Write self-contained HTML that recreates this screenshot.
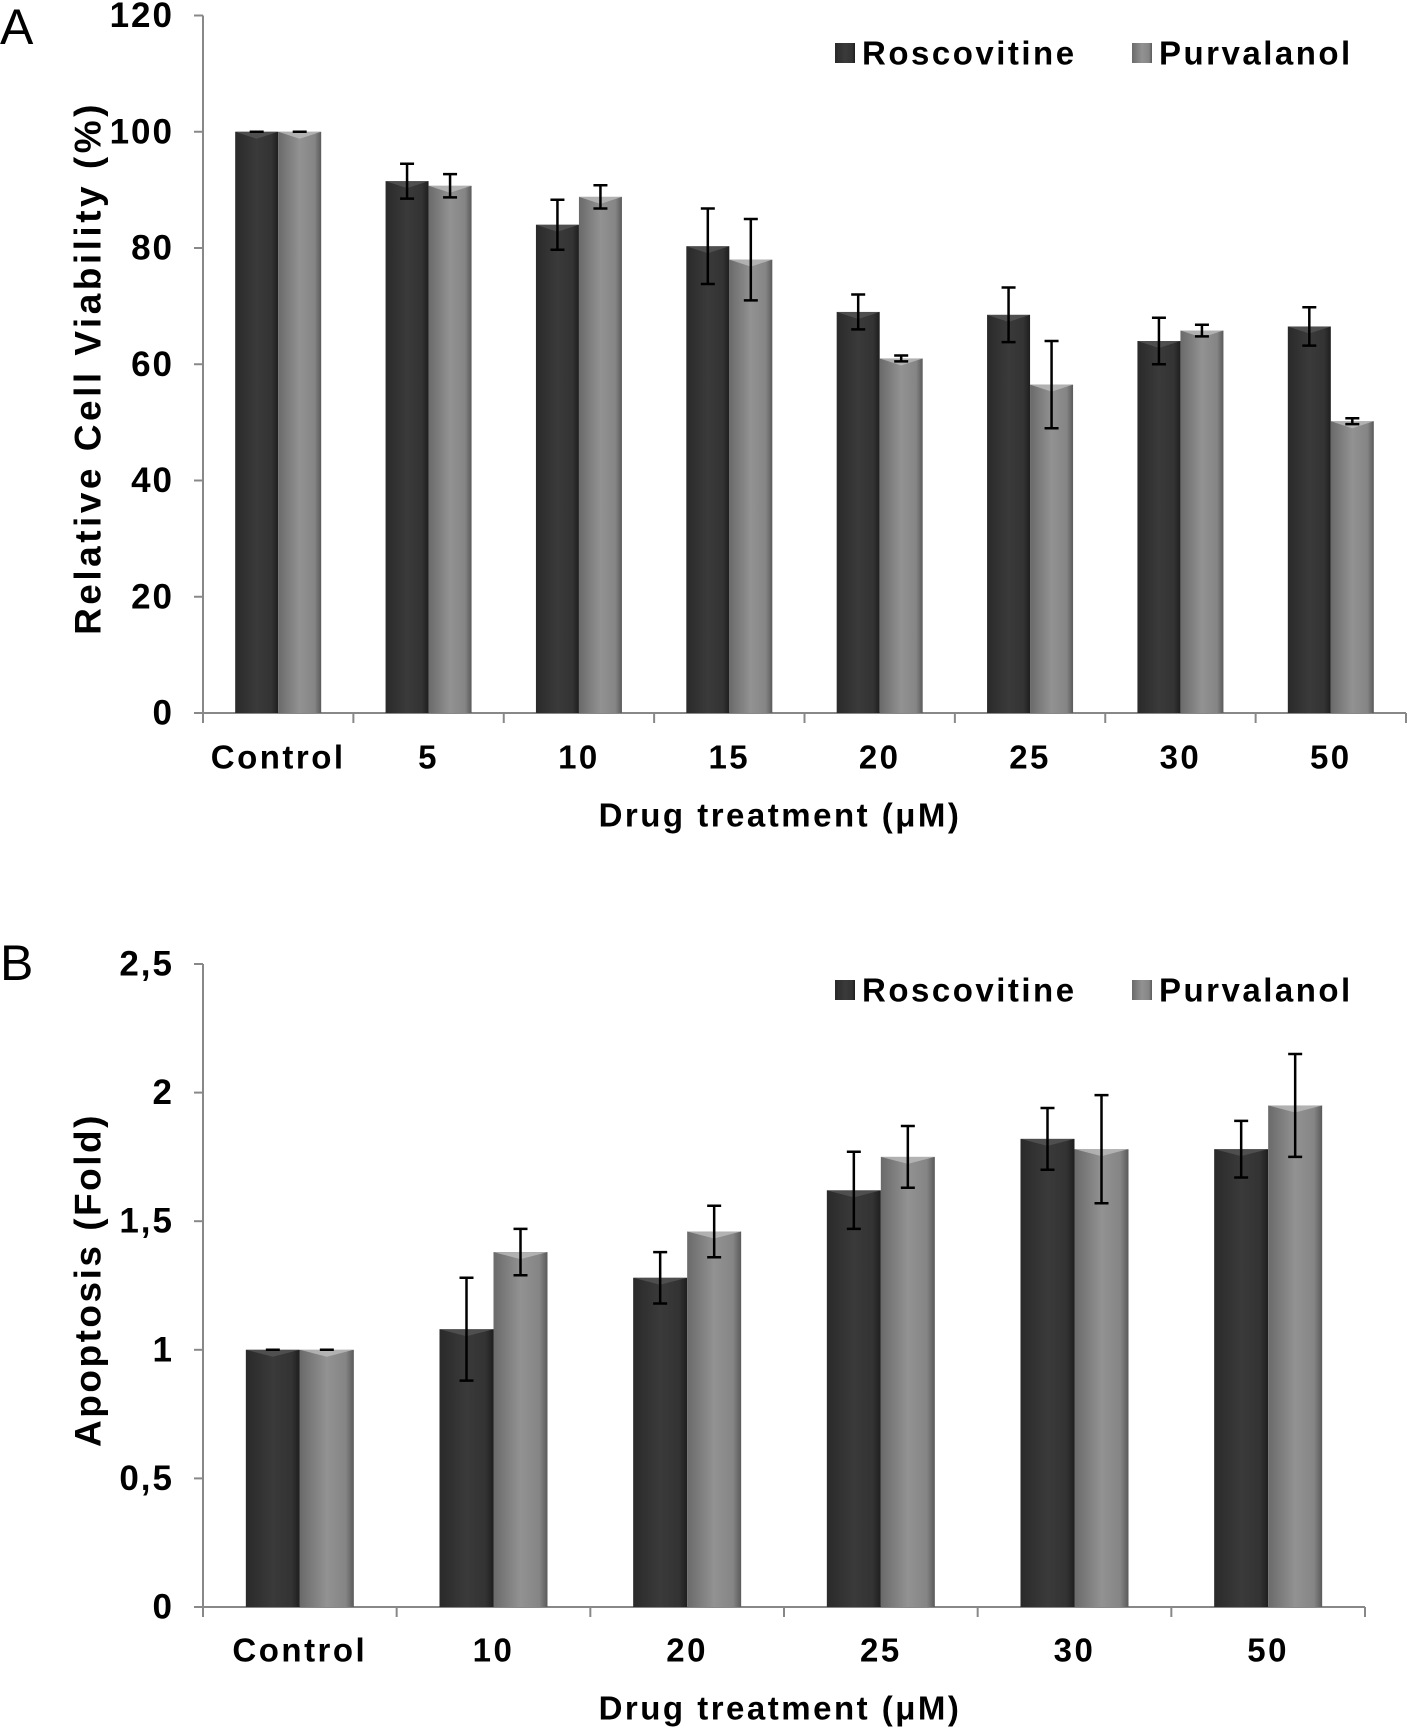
<!DOCTYPE html>
<html><head><meta charset="utf-8"><style>
body{margin:0;background:#fff}
svg{display:block;font-family:"Liberation Sans",sans-serif;font-weight:bold}
</style></head><body>
<svg id="chart" width="1407" height="1733" viewBox="0 0 1407 1733">
<defs>
<linearGradient id="gd" x1="0" x2="1"><stop offset="0" stop-color="#2a2a2a"/><stop offset="0.5" stop-color="#3a3a3a"/><stop offset="0.85" stop-color="#333"/><stop offset="1" stop-color="#1e1e1e"/></linearGradient>
<linearGradient id="gl" x1="0" x2="1"><stop offset="0" stop-color="#6a6a6a"/><stop offset="0.5" stop-color="#929292"/><stop offset="0.85" stop-color="#858585"/><stop offset="1" stop-color="#5a5a5a"/></linearGradient>
</defs>
</svg>
<script>
const catsA=["Control","5","10","15","20","25","30","50"];
const rosA=[100,91.5,84,80.3,69,68.5,64,66.5];
const rosErrA=[0,3,4.3,6.5,3,4.7,4,3.3];
const purA=[100,90.7,88.8,78,61,56.5,65.8,50.2];
const purErrA=[0,2,2,7,0.5,7.5,1,0.5];
const ticksA=[0,20,40,60,80,100,120];
const tickLabelsA=["0","20","40","60","80","100","120"];

const catsB=["Control","10","20","25","30","50"];
const rosB=[1,1.08,1.28,1.62,1.82,1.78];
const rosErrB=[0,0.2,0.1,0.15,0.12,0.11];
const purB=[1,1.38,1.46,1.75,1.78,1.95];
const purErrB=[0,0.09,0.1,0.12,0.21,0.2];
const ticksB=[0,0.5,1,1.5,2,2.5];
const tickLabelsB=["0","0,5","1","1,5","2","2,5"];

const svg=document.getElementById('chart');
const NS="http://www.w3.org/2000/svg";
function mk(tag,attrs,parent){const e=document.createElementNS(NS,tag);for(const k in attrs)e.setAttribute(k,attrs[k]);(parent||svg).appendChild(e);return e;}
function txt(s,x,y,size,anchor,parent,ls){const t=mk('text',{x:x,y:y,'font-size':size,'text-anchor':anchor||'middle','dominant-baseline':'central',fill:'#000','letter-spacing':ls||0},parent);t.textContent=s;return t;}

function panel(o){
  const g=mk('g',{});
  
  
  const yS=v=>o.y0-(v-o.min)/(o.max-o.min)*(o.y0-o.yTop);
  const n=o.cats.length, step=(o.xEnd-o.x0)/n;
  const ya=mk('line',{x1:o.x0,y1:yS(o.max),x2:o.x0,y2:o.y0,stroke:'#888','stroke-width':2},g);
  
  
  o.ticks.forEach((t,i)=>{
    mk('line',{x1:o.x0-9,y1:yS(t),x2:o.x0,y2:yS(t),stroke:'#888','stroke-width':2},g);
    const l=txt(o.tickLabels[i],o.x0-29,yS(t),35,'end',g,2);
    
    
  });
  const xa=mk('line',{x1:o.x0,y1:o.y0,x2:o.xEnd,y2:o.y0,stroke:'#888','stroke-width':2},g);
  
  
  for(let i=0;i<=n;i++){mk('line',{x1:o.x0+i*step,y1:o.y0,x2:o.x0+i*step,y2:o.y0+10,stroke:'#888','stroke-width':2},g);}
  o.cats.forEach((c,i)=>{
    const cx=o.x0+(i+0.5)*step;
    [[o.ros,o.rosErr,'url(#gd)',-1,'#555'],[o.pur,o.purErr,'url(#gl)',0,'#bbb']].forEach((s,k)=>{
      const v=s[0][i],e=s[1][i];
      const x=cx+s[3]*o.bw, y=yS(v);
      const b=mk('rect',{x:x,y:y,width:o.bw,height:o.y0-y,fill:s[2]},g);
      
      
      mk('path',{d:`M${x} ${y}L${x+o.bw/2} ${y+7}L${x+o.bw} ${y}Z`,fill:s[4],opacity:0.8},g);
      const ex=x+o.bw/2;
      const eb=mk('path',{d:`M${ex} ${yS(v+e)}V${yS(v-e)}M${ex-7} ${yS(v+e)}H${ex+7}M${ex-7} ${yS(v-e)}H${ex+7}`,stroke:'#000','stroke-width':2.5,fill:'none'},g);
      
      
    });
    const cl=txt(c,cx,o.catY,33,'middle',g,2.5);
    
    
  });
  const xt=txt('Drug treatment (μM)',o.xTitleX,o.xTitleY,33,'middle',g,2.5);
  
  
  const yt=txt(o.yTitle,0,0,37,'middle',g,o.yls);
  yt.setAttribute('transform',`translate(88,${o.yTitleY}) rotate(-90)`);
  
  
  const pl=txt(o.letter,0,o.letterY,50,'start',g);
  pl.setAttribute('font-weight','normal');
  
  
  [['Roscovitine',835,'url(#gd)'],['Purvalanol',o.leg2,'url(#gl)']].forEach((L,k)=>{
    const lg=mk('g',{},g);
    
    
    mk('rect',{x:L[1],y:o.legY-10,width:20,height:20,fill:L[2]},lg);
    txt(L[0],L[1]+27,o.legY,33,'start',lg,2.5);
  });
}
panel({name:'panel-a-viability',cats:catsA,ros:rosA,rosErr:rosErrA,pur:purA,purErr:purErrA,ticks:ticksA,tickLabels:tickLabelsA,
  min:0,max:120,x0:203,xEnd:1406,y0:713,yTop:15.5,bw:43,catY:757,xTitleX:780,xTitleY:815,yTitle:'Relative Cell Viability (%)',yTitleY:368,yls:3.5,letter:'A',letterY:27,legY:53,leg2:1132});
panel({name:'panel-b-apoptosis',cats:catsB,ros:rosB,rosErr:rosErrB,pur:purB,purErr:purErrB,ticks:ticksB,tickLabels:tickLabelsB,
  min:0,max:2.5,x0:203,xEnd:1365,y0:1607,yTop:964,bw:54,catY:1650,xTitleY:1708,xTitleX:780,yTitle:'Apoptosis (Fold)',yTitleY:1280,yls:2.5,letter:'B',letterY:963,legY:990,leg2:1132});
</script>
</body></html>
